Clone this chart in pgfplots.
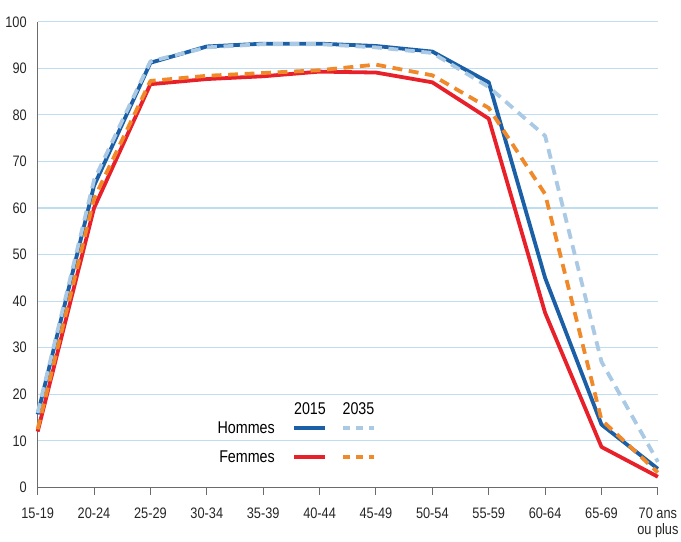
\documentclass[border=0pt]{standalone}
\usepackage{fontspec}
\setmainfont{Liberation Sans}[FakeStretch=0.84]
\usepackage{pgfplots}
\pgfplotsset{compat=1.18}

\definecolor{hom15}{HTML}{1B5FA6}
\definecolor{hom35}{HTML}{A9C9E5}
\definecolor{fem15}{HTML}{E8202A}
\definecolor{fem35}{HTML}{F0892A}
\definecolor{gridblue}{HTML}{BFDDF1}
\definecolor{axisgray}{HTML}{6B6B6B}

\begin{document}
\begin{tikzpicture}
\begin{axis}[
    name=ax,
    scale only axis,
    width=375.6pt, height=282pt,
    xmin=0, xmax=11, ymin=0, ymax=100,
    xtick={0,...,11},
    xticklabels={15-19,20-24,25-29,30-34,35-39,40-44,45-49,50-54,55-59,60-64,65-69,{70 ans\\ou plus}},
    ytick={0,10,...,100},
    axis x line*=bottom, axis y line*=left,
    axis line style={-, draw=axisgray, line width=0.6pt},
    tick align=outside,
    major tick length=4.6pt,
    xtick style={draw=axisgray, line width=0.6pt},
    ytick style={draw=none},
    ymajorgrids=true,
    grid style={draw=gridblue, line width=0.7pt},
    /pgf/number format/assume math mode=true,
    ticklabel style={font=\fontsize{9.2}{9.6}\selectfont, text=black!85},
    xticklabel style={align=center, yshift=-4.5pt},
    yticklabel style={xshift=1.5pt},
    clip=false,
    every axis plot/.append style={line width=2.3pt, line join=round},
]
\addplot[fem15] coordinates {(0,12) (1,60) (2,86.6) (3,87.7) (4,88.3) (5,89.3) (6,89.1) (7,87) (8,79.2) (9,37.5) (10,8.7) (11,2.3)};
\addplot[hom15] coordinates {(0,15.7) (1,64.8) (2,91.2) (3,94.7) (4,95.3) (5,95.3) (6,94.8) (7,93.6) (8,87) (9,45) (10,13.5) (11,4)};
\addplot[fem35, dash pattern=on 6pt off 4pt] coordinates {(0,12.5) (1,62) (2,87.3) (3,88.4) (4,89) (5,89.6) (6,90.8) (7,88.5) (8,81.5) (9,63) (10,14.5) (11,3.2)};
\addplot[hom35, dash pattern=on 6pt off 4pt] coordinates {(0,16) (1,66) (2,91.5) (3,94.5) (4,95.2) (5,95.2) (6,94.5) (7,93.3) (8,86) (9,75.5) (10,27) (11,5.5)};

% legend
\begin{scope}[font=\fontsize{10.3}{12}\selectfont]
\node at (axis cs:4.83,17) {2015};
\node at (axis cs:5.69,17) {2035};
\node[anchor=east] at (axis cs:4.31,12.8) {Hommes};
\node[anchor=east] at (axis cs:4.31,6.6) {Femmes};
\end{scope}
\draw[hom15, line width=2.3pt] (axis cs:4.55,12.8) -- (axis cs:5.10,12.8);
\draw[hom35, line width=2.3pt, dash pattern=on 4.5pt off 3.5pt] (axis cs:5.41,12.8) -- (axis cs:5.96,12.8);
\draw[fem15, line width=2.3pt] (axis cs:4.55,6.6) -- (axis cs:5.10,6.6);
\draw[fem35, line width=2.3pt, dash pattern=on 4.5pt off 3.5pt] (axis cs:5.41,6.6) -- (axis cs:5.96,6.6);
\end{axis}
\pgfresetboundingbox
\useasboundingbox ([shift={(-22.8pt,-33pt)}]ax.south west) rectangle ([shift={(14pt,13.2pt)}]ax.north east);
\end{tikzpicture}
\end{document}
